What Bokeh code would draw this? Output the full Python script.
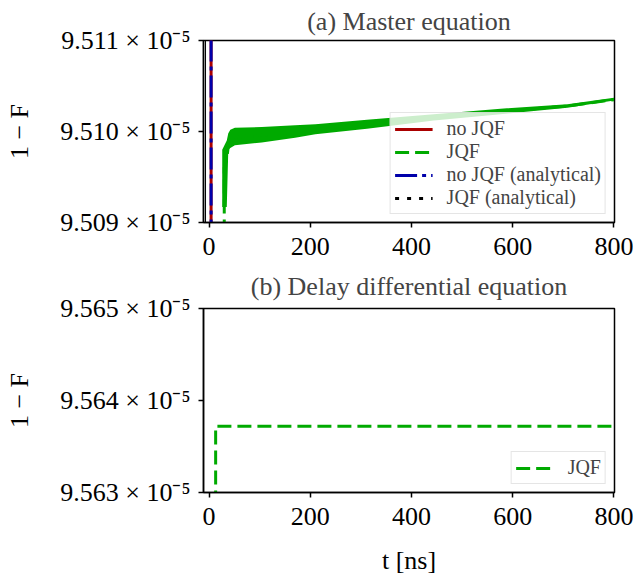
from bokeh.plotting import figure
from bokeh.layouts import column
from bokeh.models import FixedTicker, Range1d
from bokeh.embed import file_html
from bokeh.resources import INLINE

FONT = "Liberation Serif"

# ---------------- data ----------------
x_ticks = [0, 200, 400, 600, 800]

# panel (a) values are 1-F in units of 1e-5
a_y_ticks = [9.509, 9.510, 9.511]
a_y_labels = ["9.509 × 10⁻⁵", "9.510 × 10⁻⁵", "9.511 × 10⁻⁵"]

# no JQF (numerical and analytical): steep vertical near t = 0
t_nojqf = [4, 4]
nojqf = [9.5080, 9.5120]
t_nojqf_an = [4, 4]
nojqf_an = [9.5080, 9.5120]

# JQF (analytical): thin vertical just inside the left edge
t_jqf_an = [-7, -7]
jqf_an = [9.5080, 9.5120]

# JQF (master equation): centre line
t_jqf = [30, 30, 35, 40, 51, 104, 170, 210, 312, 444, 576, 708, 800]
jqf = [9.5080, 9.5096, 9.5097, 9.50993, 9.50994, 9.50996, 9.50999,
       9.51002, 9.51008, 9.51016, 9.51022, 9.51028, 9.51035]

# JQF (master equation): envelope of the fast oscillation
t_band = [26, 35, 38, 42, 51, 104, 170, 210, 312, 444, 576, 708, 800]
band_upper = [9.50980, 9.50990, 9.50998, 9.51002, 9.51004, 9.51005, 9.51007,
              9.51008, 9.51013, 9.51019, 9.51025, 9.51030, 9.51037]
band_lower = [9.50917, 9.50917, 9.50980, 9.50982, 9.50985, 9.50988, 9.50993,
              9.50997, 9.51003, 9.51012, 9.51019, 9.51026, 9.51034]

# panel (b) values are 1-F in units of 1e-5
b_y_ticks = [9.563, 9.564, 9.565]
b_y_labels = ["9.563 × 10⁻⁵", "9.564 × 10⁻⁵", "9.565 × 10⁻⁵"]
t_dde = [13, 13, 800]
dde = [9.5620, 9.56372, 9.56372]

RED = "#aa0000"
GREEN = "#00aa00"
BLUE = "#0000aa"


def make_fig(title, yr, yticks, ylabels, top, bottom, fh, tstand, xlabel=None):
    p = figure(frame_width=411, frame_height=fh,
               x_range=Range1d(-11, 801), y_range=Range1d(*yr),
               output_backend="svg", toolbar_location=None,
               min_border_left=203, min_border_right=19,
               min_border_top=top, min_border_bottom=bottom,
               title=title)
    p.title.text_font = FONT
    p.title.text_font_size = "26px"
    p.title.text_font_style = "normal"
    p.title.align = "center"
    p.title.standoff = tstand
    p.grid.visible = False
    p.outline_line_color = "black"
    p.outline_line_width = 1.5
    p.outline_line_alpha = 1
    for ax in (p.xaxis[0], p.yaxis[0]):
        ax.axis_line_color = "black"
        ax.axis_line_width = 1.5
        ax.major_tick_line_color = "black"
        ax.major_tick_line_width = 1.5
        ax.major_tick_in = 0
        ax.major_tick_out = 5
        ax.minor_tick_out = 0
        ax.minor_tick_in = 0
        ax.major_label_text_font = FONT
        ax.major_label_text_font_size = "26px"
        ax.major_label_text_color = "black"
        ax.axis_label_text_font = FONT
        ax.axis_label_text_font_size = "26px"
        ax.axis_label_text_font_style = "normal"
        ax.axis_label_text_color = "black"
    p.xaxis.ticker = FixedTicker(ticks=x_ticks)
    p.xaxis.major_label_standoff = 10
    p.yaxis.ticker = FixedTicker(ticks=yticks)
    p.yaxis.major_label_overrides = {k: v for k, v in zip(yticks, ylabels)}
    p.yaxis.major_label_standoff = 8
    p.yaxis.axis_label = "1 − F"
    p.yaxis.axis_label_standoff = 23
    if xlabel:
        p.xaxis.axis_label = xlabel
        p.xaxis.axis_label_standoff = 18
    return p


def style_legend(p):
    lg = p.legend[0]
    lg.location = "bottom_right"
    lg.margin = 8
    lg.padding = 4
    lg.spacing = 0
    lg.glyph_width = 38
    lg.glyph_height = 18
    lg.label_height = 18
    lg.label_standoff = 14
    lg.label_text_font = FONT
    lg.label_text_font_size = "20px"
    lg.border_line_color = "#cccccc"
    lg.border_line_width = 1.5
    lg.background_fill_alpha = 0.8


# ---------------- panel (a) ----------------
p1 = make_fig("(a) Master equation", (9.509, 9.511), a_y_ticks, a_y_labels,
              top=40, bottom=40, fh=182, tstand=9)
p1.extra_y_ranges = {"legend_only": Range1d(0, 1)}
p1.varea(x=t_band, y1=band_lower, y2=band_upper, color=GREEN)
p1.line(t_jqf_an, jqf_an, color="black", line_width=1)
p1.line(t_nojqf, nojqf, color=RED, line_width=3, legend_label="no JQF")
p1.line(t_jqf, jqf, color=GREEN, line_width=3, line_dash="14 6",
        legend_label="JQF")
p1.line(t_nojqf_an, nojqf_an, color=BLUE, line_width=3,
        line_dash="22 5 4 5", legend_label="no JQF (analytical)")
# same analytical data, drawn in a range where it is out of view: gives the
# dotted legend key of the reference
p1.line(t_jqf_an, jqf_an, color="black", line_width=3, line_dash="4 8",
        y_range_name="legend_only", legend_label="JQF (analytical)")
style_legend(p1)

# ---------------- panel (b) ----------------
p2 = make_fig("(b) Delay differential equation", (9.563, 9.565), b_y_ticks,
              b_y_labels, top=44, bottom=89, fh=184, tstand=15, xlabel="t [ns]")
p2.line(t_dde, dde, color=GREEN, line_width=3, line_dash="14 6",
        line_join="round", legend_label="JQF")
style_legend(p2)

layout = column(p1, p2, spacing=0)
open("out.html", "w").write(file_html(layout, INLINE))
